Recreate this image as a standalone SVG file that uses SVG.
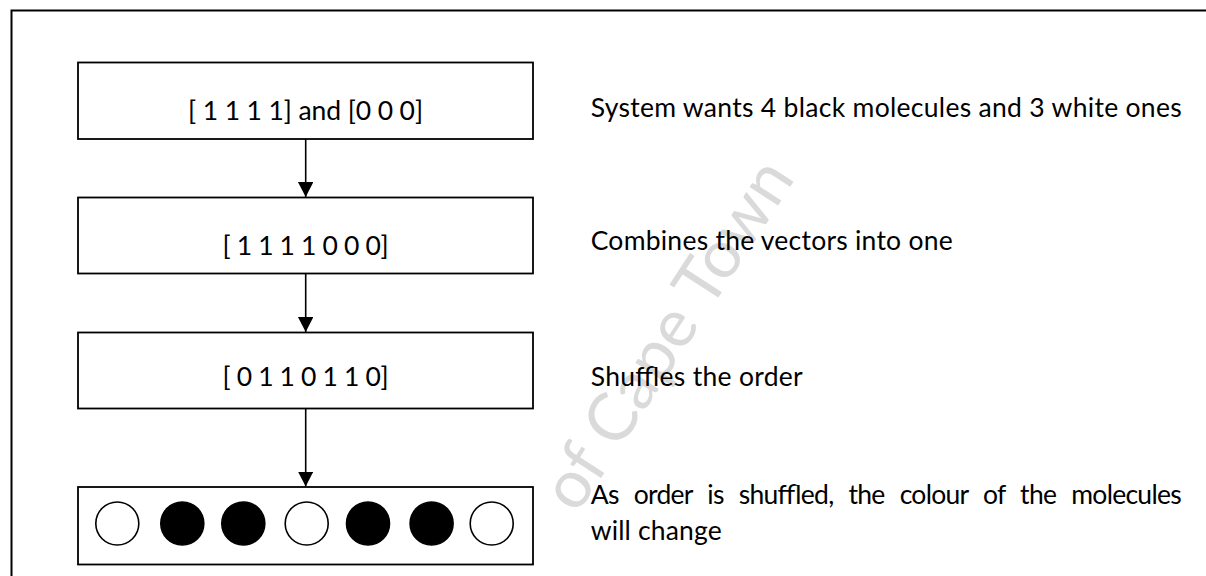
<svg xmlns="http://www.w3.org/2000/svg" width="1206" height="576" viewBox="0 0 1206 576">
  <style>
    .frame { fill: none; stroke: #000; stroke-width: 2; }
    .box { fill: #fff; stroke: #000; stroke-width: 1.8; }
    .btxt { font-family: Lato, "Carlito", "Liberation Sans", sans-serif; font-size: 26.5px; fill: #000; text-anchor: middle; }
    .rtxt { font-family: Lato, "Carlito", "Liberation Sans", sans-serif; font-size: 26.5px; fill: #000; }
    .wm { font-family: Lato, "Liberation Sans", sans-serif; font-size: 67px; fill: #dadada; }
    .conn { stroke: #000; stroke-width: 1.6; fill: none; }
    .mol-w { fill: #fff; stroke: #000; stroke-width: 1.6; }
    .mol-b { fill: #000; stroke: #000; stroke-width: 1.6; }
  </style>
  <defs>
    <marker id="arrow" markerUnits="userSpaceOnUse" markerWidth="16" markerHeight="16" refX="15" refY="7.75" orient="auto">
      <path d="M0,0 L15,7.75 L0,15.5 z" fill="#000"/>
    </marker>
  </defs>

  <rect width="1206" height="576" fill="#fff"/>

  <!-- watermark -->
  <text class="wm" transform="translate(577,515) rotate(-57)">of Cape Town</text>

  <!-- outer frame -->
  <rect class="frame" x="11.5" y="10.5" width="1300" height="700"/>

  <g id="connectors">
    <line class="conn" x1="305.7" y1="139" x2="305.7" y2="197" marker-end="url(#arrow)"/>
    <line class="conn" x1="305.7" y1="273.5" x2="305.7" y2="332" marker-end="url(#arrow)"/>
    <line class="conn" x1="305.7" y1="408.5" x2="305.7" y2="486.5" marker-end="url(#arrow)"/>
  </g>

  <g id="node-input">
    <rect class="box" x="78" y="62.5" width="455" height="76.5"/>
    <text class="btxt" x="305.5" y="120" textLength="235" lengthAdjust="spacing">[ 1 1 1 1] and [0 0 0]</text>
  </g>
  <g id="node-combined">
    <rect class="box" x="78" y="197.5" width="455" height="76"/>
    <text class="btxt" x="305.5" y="255" textLength="166" lengthAdjust="spacing">[ 1 1 1 1 0 0 0]</text>
  </g>
  <g id="node-shuffled">
    <rect class="box" x="78" y="332.5" width="455" height="76"/>
    <text class="btxt" x="305.5" y="385.7" textLength="166" lengthAdjust="spacing">[ 0 1 1 0 1 1 0]</text>
  </g>
  <g id="node-molecules">
    <rect class="box" x="78" y="487" width="455" height="77.5"/>
    <circle class="mol-w" cx="117.3" cy="523.5" r="21.5"/>
    <circle class="mol-b" cx="182.3" cy="523.5" r="21.5"/>
    <circle class="mol-b" cx="243.3" cy="523.5" r="21.5"/>
    <circle class="mol-w" cx="306.7" cy="523.5" r="21.5"/>
    <circle class="mol-b" cx="368" cy="523.5" r="21.5"/>
    <circle class="mol-b" cx="431.6" cy="523.5" r="21.5"/>
    <circle class="mol-w" cx="491.7" cy="523.5" r="21.5"/>
  </g>

  <g id="notes">
    <text class="rtxt" x="590.7" y="117" textLength="591" lengthAdjust="spacing">System wants 4 black molecules and 3 white ones</text>
    <text class="rtxt" x="590.7" y="250" textLength="362" lengthAdjust="spacing">Combines the vectors into one</text>
    <text class="rtxt" x="590.7" y="386" textLength="212" lengthAdjust="spacing">Shuffles the order</text>
    <text class="rtxt" x="590.7" y="504" textLength="591" lengthAdjust="spacing" word-spacing="9">As order is shuffled, the colour of the molecules</text>
    <text class="rtxt" x="590.7" y="540" textLength="131" lengthAdjust="spacing">will change</text>
  </g>
</svg>
